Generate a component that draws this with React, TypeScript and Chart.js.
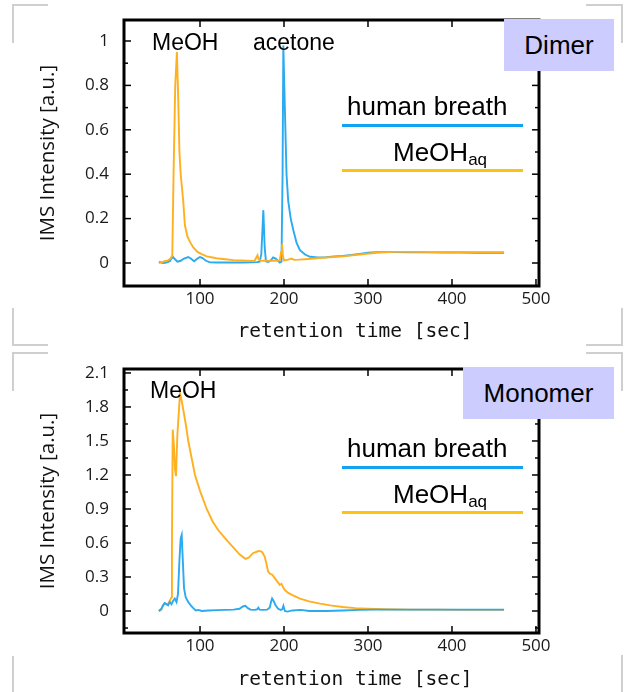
import React, { useEffect, useRef } from 'react';
import { Chart, registerables } from 'chart.js';

Chart.register(...registerables);

// ---------- data ----------
const xTicks = [100, 200, 300, 400, 500];
const xTickLabels = ['100', '200', '300', '400', '500'];

const dimerYTicks = [0, 0.2, 0.4, 0.6, 0.8, 1];
const dimerYTickLabels = ['0', '0.2', '0.4', '0.6', '0.8', '1'];
const dimerYMinor = [0.1, 0.3, 0.5, 0.7, 0.9];

const monoYTicks = [0, 0.3, 0.6, 0.9, 1.2, 1.5, 1.8, 2.1];
const monoYTickLabels = ['0', '0.3', '0.6', '0.9', '1.2', '1.5', '1.8', '2.1'];
const monoYMinor = [-0.15, 0.15, 0.45, 0.75, 1.05, 1.35, 1.65, 1.95];

// Dimer – human breath
const dimerBreathX = [51, 56, 60, 64, 66, 68, 70, 73, 77, 81, 86, 89, 93, 97, 100, 103, 107, 112, 120, 135, 150, 162, 168, 171, 173, 175.4, 177, 178.5, 181, 184, 187, 190, 195, 197, 198.3, 199.2, 201, 203, 205, 208, 211, 215, 219, 225, 231, 240, 250, 260, 270, 280, 290, 300, 310, 330, 350, 370, 390, 410, 430, 450, 462];
const dimerBreathY = [0.005, 0.0, 0.002, 0.008, 0.02, 0.027, 0.018, 0.006, 0.01, 0.02, 0.027, 0.02, 0.008, 0.02, 0.027, 0.022, 0.01, 0.003, 0.002, 0.002, 0.002, 0.003, 0.004, 0.006, 0.04, 0.238, 0.07, 0.008, 0.005, 0.01, 0.025, 0.02, 0.002, 0.006, 0.4, 0.98, 0.7, 0.4, 0.28, 0.2, 0.15, 0.09, 0.058, 0.038, 0.028, 0.025, 0.026, 0.029, 0.032, 0.036, 0.041, 0.046, 0.049, 0.049, 0.048, 0.048, 0.047, 0.047, 0.046, 0.046, 0.046];

// Dimer – MeOH aq
const dimerMeohX = [51, 55, 58, 62, 65, 67, 68.5, 70.5, 72.5, 74, 75.5, 77, 78.5, 80, 82, 85, 88, 92, 97, 102, 108, 115, 122, 130, 140, 150, 160, 165, 167, 168.5, 170, 173, 180, 190, 195, 196.5, 197.6, 198.8, 200, 205, 209, 212, 218, 225, 235, 250, 270, 290, 310, 330, 350, 380, 410, 440, 462];
const dimerMeohY = [0.0, 0.004, 0.008, 0.012, 0.02, 0.035, 0.4, 0.8, 0.95, 0.75, 0.5, 0.4, 0.34, 0.28, 0.17, 0.12, 0.095, 0.07, 0.05, 0.04, 0.03, 0.025, 0.02, 0.017, 0.013, 0.011, 0.009, 0.01, 0.025, 0.035, 0.015, 0.01, 0.01, 0.01, 0.012, 0.05, 0.085, 0.03, 0.012, 0.015, 0.02, 0.014, 0.015, 0.017, 0.02, 0.025, 0.03, 0.038, 0.046, 0.05, 0.05, 0.049, 0.049, 0.049, 0.049];

// Monomer – human breath
const monoBreathX = [51, 54, 56, 58, 60, 62, 64, 66, 68, 70, 72, 73.8, 75.5, 77, 78.2, 79.5, 81, 83, 86, 89, 92, 95, 98, 102, 110, 120, 130, 140, 147, 151, 154, 157, 160, 165, 168, 169.5, 171, 175, 180, 183, 184.5, 185.8, 187.5, 190, 193, 196, 198, 199.3, 201, 204, 210, 220, 230, 250, 270, 290, 310, 340, 370, 400, 430, 462];
const monoBreathY = [0.0, 0.02, 0.05, 0.07, 0.06, 0.05, 0.08, 0.06, 0.09, 0.11, 0.08, 0.15, 0.45, 0.64, 0.67, 0.45, 0.2, 0.12, 0.08, 0.05, 0.025, 0.005, 0.01, 0.0, 0.005, 0.008, 0.01, 0.012, 0.02, 0.04, 0.045, 0.025, 0.012, 0.01, 0.015, 0.03, 0.012, 0.01, 0.012, 0.03, 0.08, 0.11, 0.09, 0.05, 0.02, 0.01, 0.015, 0.045, 0.0, -0.005, 0.005, 0.01, 0.0, 0.0, 0.005, 0.01, 0.012, 0.012, 0.012, 0.012, 0.012, 0.012];

// Monomer – MeOH aq
const monoMeohX = [51, 54, 56, 58, 60, 62, 64, 66, 66.6, 67.5, 69, 70.2, 71.4, 73, 76.2, 78, 79.5, 83, 86, 90, 94, 100, 108, 115, 122, 130, 139, 147, 154, 158, 163, 168, 171, 174, 177, 179, 181, 183, 186, 189, 193, 195, 197, 199, 201, 205, 210, 219, 230, 243, 255, 270, 285, 299, 320, 350, 380, 410, 440, 462];
const monoMeohY = [0.0, 0.01, 0.05, 0.07, 0.06, 0.065, 0.09, 0.12, 0.6, 1.6, 1.45, 1.25, 1.19, 1.55, 1.92, 1.86, 1.8, 1.65, 1.5, 1.35, 1.2, 1.06, 0.9, 0.79, 0.71, 0.64, 0.565, 0.5, 0.46, 0.47, 0.51, 0.525, 0.53, 0.52, 0.48, 0.42, 0.35, 0.33, 0.32, 0.29, 0.25, 0.23, 0.24, 0.21, 0.185, 0.16, 0.14, 0.11, 0.085, 0.065, 0.05, 0.035, 0.025, 0.02, 0.015, 0.012, 0.012, 0.01, 0.01, 0.01];

const BLUE = '#2aaaf0';
const ORANGE = '#ffb020';
const LEG_BLUE = '#12a2f2';
const LEG_ORANGE = '#ffc20e';

const framePlugin = {
  id: 'frame',
  afterDatasetsDraw(chart: any, _args: any, opts: any) {
    const { ctx, chartArea: a, scales } = chart;
    const xs = scales.x;
    const ys = scales.y;
    ctx.save();
    ctx.strokeStyle = '#000';
    ctx.lineWidth = 1.5;
    const seg = (x1: number, y1: number, x2: number, y2: number) => {
      ctx.beginPath();
      ctx.moveTo(x1, y1);
      ctx.lineTo(x2, y2);
      ctx.stroke();
    };
    (opts.xMajor || []).forEach((v: number) => {
      const p = xs.getPixelForValue(v);
      seg(p, a.bottom, p, a.bottom - 7);
      seg(p, a.top, p, a.top + 7);
    });
    (opts.yMajor || []).forEach((v: number) => {
      const p = ys.getPixelForValue(v);
      seg(a.left, p, a.left + 7, p);
      seg(a.right, p, a.right - 7, p);
    });
    (opts.yMinor || []).forEach((v: number) => {
      const p = ys.getPixelForValue(v);
      seg(a.left, p, a.left + 4, p);
      seg(a.right, p, a.right - 4, p);
    });
    ctx.lineWidth = 3;
    ctx.strokeRect(a.left, a.top, a.right - a.left, a.bottom - a.top);
    ctx.restore();
  },
};

type PanelCfg = {
  padTop: number;
  xAxisHeight: number;
  titleBottomPad: number;
  yMin: number;
  yMax: number;
  yTicks: number[];
  yTickLabels: string[];
  yMinor: number[];
  breathX: number[];
  breathY: number[];
  meohX: number[];
  meohY: number[];
  breathOnTop: boolean;
};

function buildChart(canvas: HTMLCanvasElement, c: PanelCfg) {
  const pts = (xs: number[], ys: number[]) => xs.map((x, i) => ({ x, y: ys[i] }));
  return new Chart(canvas, {
    type: 'line',
    data: {
      datasets: [
        {
          label: 'human breath',
          data: pts(c.breathX, c.breathY),
          borderColor: BLUE,
          borderWidth: 1.9,
          pointRadius: 0,
          tension: 0,
          order: c.breathOnTop ? 0 : 1,
        },
        {
          label: 'MeOHaq',
          data: pts(c.meohX, c.meohY),
          borderColor: ORANGE,
          borderWidth: 1.9,
          pointRadius: 0,
          tension: 0,
          order: c.breathOnTop ? 1 : 0,
        },
      ],
    },
    options: {
      responsive: false,
      animation: false,
      devicePixelRatio: 1,
      layout: { padding: { left: 0, right: 87, top: c.padTop, bottom: 0 } },
      plugins: {
        legend: { display: false },
        tooltip: { enabled: false },
        frame: { xMajor: xTicks, yMajor: c.yTicks, yMinor: c.yMinor },
      } as any,
      scales: {
        x: {
          type: 'linear',
          min: 9.5,
          max: 503.6,
          afterBuildTicks: (s: any) => {
            s.ticks = xTicks.map((v) => ({ value: v }));
          },
          afterFit: (s: any) => {
            s.height = c.xAxisHeight;
            s.paddingLeft = 0;
            s.paddingRight = 0;
          },
          grid: { display: false, drawTicks: false },
          border: { display: false },
          ticks: {
            padding: 3,
            color: '#1a1a1a',
            font: { family: "'Open Sans', sans-serif", size: 17 },
            maxRotation: 0,
            autoSkip: false,
            callback: (_v: any, i: number) => xTickLabels[i],
          },
          title: {
            display: true,
            text: '    retention time [sec]',
            color: '#111',
            font: { family: "'DejaVu Sans Mono', monospace", size: 19.5 },
            padding: { top: 0, bottom: c.titleBottomPad },
          },
        },
        y: {
          type: 'linear',
          min: c.yMin,
          max: c.yMax,
          afterBuildTicks: (s: any) => {
            s.ticks = c.yTicks.map((v) => ({ value: v }));
          },
          afterFit: (s: any) => {
            s.width = 124;
            s.paddingTop = 0;
            s.paddingBottom = 0;
          },
          grid: { display: false, drawTicks: false },
          border: { display: false },
          ticks: {
            padding: 15,
            color: '#1a1a1a',
            font: { family: "'Open Sans', sans-serif", size: 17 },
            autoSkip: false,
            callback: (_v: any, i: number) => c.yTickLabels[i],
          },
          title: {
            display: true,
            text: 'IMS Intensity [a.u.]',
            color: '#111',
            font: { family: "'Open Sans', sans-serif", size: 20.5 },
            padding: { top: 36, bottom: 0 },
          },
        },
      },
    },
    plugins: [framePlugin as any],
  });
}

const bracketColor = '#cfcfcf';

function Bracket({ x, y, w, h }: { x: number; y: number; w: number; h: number }) {
  return <div style={{ position: 'absolute', left: x, top: y, width: w, height: h, background: bracketColor }} />;
}

const arial = "'Liberation Sans', Arial, sans-serif";

function Txt({ left, top, size, children }: { left: number; top: number; size: number; children: any }) {
  return (
    <div style={{ position: 'absolute', left, top, fontFamily: arial, fontSize: size, lineHeight: `${size}px`, color: '#000', whiteSpace: 'nowrap' }}>
      {children}
    </div>
  );
}

function LabelBox({ left, top, width, height, text }: { left: number; top: number; width: number; height: number; text: string }) {
  return (
    <div
      style={{
        position: 'absolute', left, top, width, height, background: '#ccccff',
        fontFamily: arial, fontSize: 26, lineHeight: `${height}px`, textAlign: 'center', color: '#000',
      }}
    >
      {text}
    </div>
  );
}

export default function App() {
  const ref1 = useRef<HTMLCanvasElement>(null);
  const ref2 = useRef<HTMLCanvasElement>(null);

  useEffect(() => {
    const c1 = buildChart(ref1.current!, {
      padTop: 20, xAxisHeight: 64, titleBottomPad: 6,
      yMin: -0.1036, yMax: 1.0946,
      yTicks: dimerYTicks, yTickLabels: dimerYTickLabels, yMinor: dimerYMinor,
      breathX: dimerBreathX, breathY: dimerBreathY, meohX: dimerMeohX, meohY: dimerMeohY,
      breathOnTop: false,
    });
    const c2 = buildChart(ref2.current!, {
      padTop: 19, xAxisHeight: 59, titleBottomPad: 0,
      yMin: -0.194, yMax: 2.135,
      yTicks: monoYTicks, yTickLabels: monoYTickLabels, yMinor: monoYMinor,
      breathX: monoBreathX, breathY: monoBreathY, meohX: monoMeohX, meohY: monoMeohY,
      breathOnTop: true,
    });
    return () => {
      c1.destroy();
      c2.destroy();
    };
  }, []);

  return (
    <div style={{ position: 'absolute', left: 0, top: 0, width: 626, height: 692, background: '#fff', overflow: 'hidden' }}>
      <canvas ref={ref1} width={626} height={350} style={{ position: 'absolute', left: 0, top: 0 }} />
      <canvas ref={ref2} width={626} height={342} style={{ position: 'absolute', left: 0, top: 350 }} />

      {/* slide placeholder corner brackets */}
      <Bracket x={12} y={4} w={36} h={2} />
      <Bracket x={12} y={4} w={2} h={39} />
      <Bracket x={586} y={4} w={36} h={2} />
      <Bracket x={621} y={4} w={2} h={39} />
      <Bracket x={12} y={308} w={2} h={38} />
      <Bracket x={12} y={344} w={36} h={2} />
      <Bracket x={621} y={308} w={2} h={38} />
      <Bracket x={586} y={344} w={36} h={2} />

      <Bracket x={12} y={352} w={36} h={2} />
      <Bracket x={12} y={352} w={2} h={39} />
      <Bracket x={586} y={352} w={36} h={2} />
      <Bracket x={621} y={352} w={2} h={39} />
      <Bracket x={12} y={656} w={2} h={40} />
      <Bracket x={621} y={655} w={2} h={40} />

      {/* top panel annotations */}
      <Txt left={152} top={30.5} size={23}>MeOH</Txt>
      <Txt left={253} top={30.5} size={23}>acetone</Txt>
      <LabelBox left={504} top={19} width={110} height={52} text="Dimer" />
      <Txt left={347} top={93} size={26}>human breath</Txt>
      <div style={{ position: 'absolute', left: 342, top: 124, width: 181, height: 3, background: LEG_BLUE }} />
      <Txt left={393} top={139} size={26}>
        MeOH<span style={{ fontSize: 17, position: 'relative', top: 4 }}>aq</span>
      </Txt>
      <div style={{ position: 'absolute', left: 342, top: 169, width: 181, height: 3, background: LEG_ORANGE }} />

      {/* bottom panel annotations */}
      <Txt left={150} top={378.5} size={23}>MeOH</Txt>
      <LabelBox left={463} top={367} width={151} height={52} text="Monomer" />
      <Txt left={347} top={435} size={26}>human breath</Txt>
      <div style={{ position: 'absolute', left: 342, top: 466, width: 181, height: 3, background: LEG_BLUE }} />
      <Txt left={393} top={481} size={26}>
        MeOH<span style={{ fontSize: 17, position: 'relative', top: 4 }}>aq</span>
      </Txt>
      <div style={{ position: 'absolute', left: 342, top: 511, width: 181, height: 3, background: LEG_ORANGE }} />
    </div>
  );
}
